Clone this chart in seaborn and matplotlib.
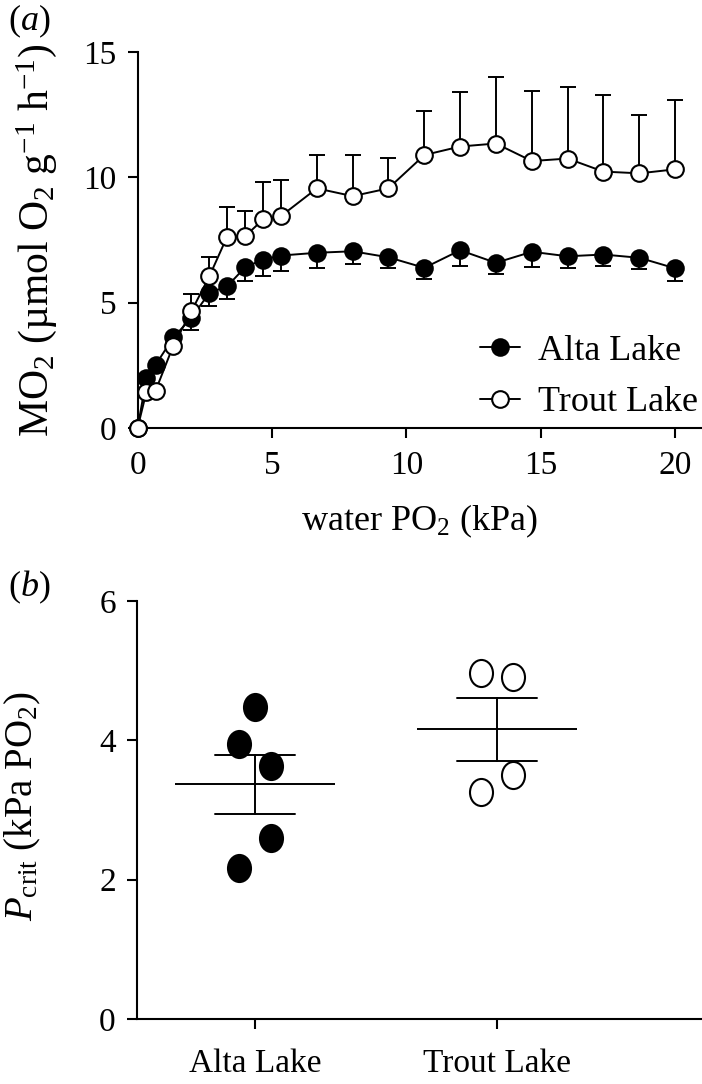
"""Oxygen consumption vs water PO2 and Pcrit for two lake populations."""

import matplotlib
matplotlib.use("Agg")
import matplotlib.pyplot as plt
from matplotlib.path import Path
import numpy as np
import pandas as pd
import seaborn as sns

# panel (a): MO2 over water PO2, means with one-sided SEM
water_po2 = [0, 0.33, 0.67, 1.33, 2.0, 2.67, 3.33, 4.0, 4.67, 5.33, 6.67,
             8.0, 9.33, 10.67, 12.0, 13.33, 14.67, 16.0, 17.33, 18.67, 20.0]
alta_mo2 = [0, 1.99, 2.52, 3.61, 4.39, 5.39, 5.65, 6.41, 6.72, 6.88, 6.99,
            7.05, 6.81, 6.39, 7.09, 6.59, 7.03, 6.85, 6.92, 6.79, 6.37]
alta_sem = [0, 0.1, 0.1, 0.1, 0.47, 0.51, 0.49, 0.56, 0.67, 0.60, 0.62,
            0.50, 0.44, 0.44, 0.64, 0.43, 0.60, 0.46, 0.44, 0.44, 0.49]
trout_mo2 = [0, 1.45, 1.49, 3.29, 4.65, 6.05, 7.63, 7.65, 8.32, 8.45, 9.56,
             9.25, 9.56, 10.89, 11.23, 11.35, 10.65, 10.75, 10.23, 10.16, 10.32]
trout_sem = [0, 0.1, 0.1, 0.1, 0.71, 0.76, 1.18, 0.99, 1.48, 1.43, 1.33,
             1.64, 1.23, 1.74, 2.17, 2.66, 2.78, 2.86, 3.04, 2.32, 2.76]

# panel (b): individual Pcrit values
lakes = ["Alta Lake", "Trout Lake"]
alta_pcrit = [4.48, 3.95, 3.63, 2.59, 2.17]
trout_pcrit = [4.97, 4.90, 3.50, 3.26]

# horizontal scatter of the points within a group (layout only)
ALTA_SPREAD = [0, -1, 1, 1, -1]
TROUT_SPREAD = [-1, 1, 1, -1]
SPREAD = 0.066

sns.set_theme(style="ticks")
plt.rcParams.update({
    "font.family": ["Liberation Serif", "DejaVu Serif"],
    "mathtext.fontset": "custom",
    "mathtext.rm": "Liberation Serif",
    "mathtext.it": "Liberation Serif:italic",
    "text.color": "black",
    "axes.labelcolor": "black",
    "axes.linewidth": 1.5,
    "axes.edgecolor": "black",
    "xtick.color": "black",
    "ytick.color": "black",
    "xtick.major.width": 1.5,
    "ytick.major.width": 1.5,
    "xtick.major.size": 7,
    "ytick.major.size": 7,
    "xtick.labelsize": 24,
    "ytick.labelsize": 24,
    "axes.labelsize": 26,
})

fig = plt.figure(figsize=(7.02, 10.84), dpi=100)
ax_a = fig.add_axes([0.196, 0.6052, 0.804, 0.3468])
ax_b = fig.add_axes([0.1947, 0.0600, 0.8053, 0.3858])

# ---- panel (a)
df_a = pd.DataFrame({"po2": water_po2, "alta": alta_mo2, "trout": trout_mo2})
zeros = np.zeros(len(water_po2))
ax_a.errorbar(water_po2, alta_mo2, yerr=[alta_sem, zeros], fmt="none",
              ecolor="black", elinewidth=1.4, capsize=6, capthick=1.4,
              zorder=2, clip_on=False)
ax_a.errorbar(water_po2, trout_mo2, yerr=[zeros, trout_sem], fmt="none",
              ecolor="black", elinewidth=1.4, capsize=6, capthick=1.4,
              zorder=2, clip_on=False)
sns.lineplot(data=df_a, x="po2", y="alta", ax=ax_a, color="black",
             linewidth=1.4, marker="o", markersize=12,
             markerfacecolor="black", markeredgecolor="black",
             markeredgewidth=1.4, label="Alta Lake", zorder=3, clip_on=False)
sns.lineplot(data=df_a, x="po2", y="trout", ax=ax_a, color="black",
             linewidth=1.4, marker="o", markersize=12,
             markerfacecolor="white", markeredgecolor="black",
             markeredgewidth=1.5, label="Trout Lake", zorder=4, clip_on=False)

ax_a.set_xlim(0, 21)
ax_a.set_ylim(0, 15)
ax_a.set_xticks([0, 5, 10, 15, 20])
ax_a.set_yticks([0, 5, 10, 15])
ax_a.tick_params(axis="x", pad=9)
ax_a.tick_params(axis="y", pad=8)
ax_a.set_xlabel("water PO$_2$ (kPa)", labelpad=16)
ax_a.set_ylabel("MO$_2$ (µmol O$_2$ g$^{-1}$ h$^{-1}$)", fontsize=30)
ax_a.yaxis.set_label_coords(-0.14, 0.5)
ax_a.legend(loc="lower right", bbox_to_anchor=(1.025, -0.025),
            frameon=False, fontsize=26, handlelength=1.1,
            handletextpad=0.5, labelspacing=0.5, borderaxespad=0.1)
sns.despine(ax=ax_a)

# ---- panel (b)
circle = Path.unit_circle()
oval = Path(circle.vertices * [0.85, 1.0], circle.codes)

df_b = pd.DataFrame({
    "lake": [lakes[0]] * len(alta_pcrit) + [lakes[1]] * len(trout_pcrit),
    "pcrit": alta_pcrit + trout_pcrit,
})
df_b["xpos"] = np.r_[0 + SPREAD * np.array(ALTA_SPREAD),
                     1 + SPREAD * np.array(TROUT_SPREAD)]

sns.pointplot(data=df_b, x="lake", y="pcrit", order=lakes, ax=ax_b,
              errorbar="se", capsize=0.33, color="black", markers="_",
              markersize=115, markeredgewidth=1.4, linestyle="none",
              err_kws={"linewidth": 1.4})
n_alta = len(alta_pcrit)
sns.scatterplot(x=df_b["xpos"][:n_alta], y=df_b["pcrit"][:n_alta], ax=ax_b,
                marker=oval, s=380, color="black", edgecolor="black",
                linewidth=1.5, zorder=5)
sns.scatterplot(x=df_b["xpos"][n_alta:], y=df_b["pcrit"][n_alta:], ax=ax_b,
                marker=oval, s=380, facecolor="white", edgecolor="black",
                linewidth=1.5, zorder=5)

ax_b.set_xlim(-0.49, 1.845)
ax_b.set_ylim(0, 6)
ax_b.set_yticks([0, 2, 4, 6])
ax_b.set_xticks([0, 1])
ax_b.set_xticklabels(lakes)
ax_b.tick_params(axis="x", pad=14)
ax_b.tick_params(axis="y", pad=8)
ax_b.set_xlabel("")
ax_b.set_ylabel("$P_{\\mathrm{crit}}$ (kPa PO$_2$)", fontsize=28)
ax_b.yaxis.set_label_coords(-0.165, 0.51)
sns.despine(ax=ax_b)

fig.text(0.012, 0.998, "($a$)", fontsize=26, va="top", ha="left")
fig.text(0.012, 0.475, "($b$)", fontsize=26, va="top", ha="left")

fig.savefig("out.png", dpi=100)
plt.close(fig)
